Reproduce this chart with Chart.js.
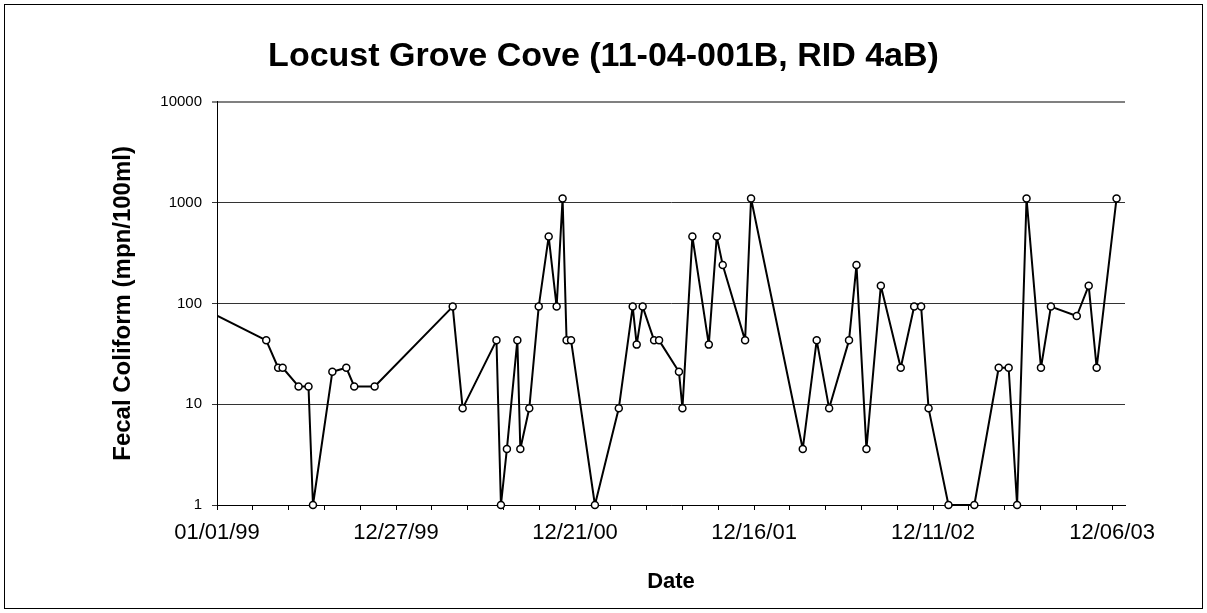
<!DOCTYPE html>
<html>
<head>
<meta charset="utf-8">
<script src="https://cdn.jsdelivr.net/npm/chart.js@4/dist/chart.umd.min.js"></script>
<style>
  html, body { margin: 0; padding: 0; background: #fff; }
  #wrap { position: relative; width: 1207px; height: 613px; }
  #frame { position: absolute; left: 4px; top: 4px; width: 1199px; height: 605px;
           border: 1px solid #000; box-sizing: border-box; pointer-events: none; }
</style>
</head>
<body>
<div id="wrap">
  <canvas id="fcChart" width="1207" height="613"></canvas>
  <div id="frame"></div>
</div>
<script>
// sample dates (MM/DD/YY) and fecal coliform results
const sampleDates = [
  '11/26/98', '04/10/99', '05/04/99', '05/13/99', '06/14/99', '07/04/99', '07/13/99',
  '08/21/99', '09/18/99', '10/04/99', '11/14/99', '04/19/00', '05/09/00', '07/16/00',
  '07/25/00', '08/06/00', '08/27/00', '09/02/00', '09/20/00', '10/09/00', '10/29/00',
  '11/14/00', '11/26/00', '12/04/00', '12/13/00', '01/30/01', '03/19/01', '04/16/01',
  '04/24/01', '05/06/01', '05/29/01', '06/08/01', '07/18/01', '07/25/01', '08/14/01',
  '09/16/01', '10/02/01', '10/14/01', '11/28/01', '12/10/01', '03/24/02', '04/21/02',
  '05/16/02', '06/25/02', '07/10/02', '07/30/02', '08/28/02', '10/07/02', '11/03/02',
  '11/17/02', '12/02/02', '01/11/03', '03/04/03', '04/22/03', '05/12/03', '05/29/03',
  '06/17/03', '07/16/03', '08/05/03', '09/26/03', '10/20/03', '11/05/03', '12/15/03'
];
const fecalColiform = [
  93, 43, 23, 23, 15, 15, 1,
  21, 23, 15, 15, 93, 9.1, 43,
  1, 3.6, 43, 3.6, 9.1, 93, 460,
  93, 1100, 43, 43, 1, 9.1, 93,
  39, 93, 43, 43, 21, 9.1, 460,
  39, 460, 240, 43, 1100, 3.6, 43,
  9.1, 43, 240, 3.6, 150, 23, 93,
  93, 9.1, 1, 1, 23, 23, 1,
  1100, 23, 93, 75, 150, 23, 1100
];
const yTicks = [1, 10, 100, 1000, 10000];
const xStartDate = '01/01/99';
const xEndDate = '01/01/04';
const minorStepDays = 72;
const majorStepDays = 360;

function parseDate(s) {
  const [m, d, y] = s.split('/').map(Number);
  return Date.UTC(y < 50 ? 2000 + y : 1900 + y, m - 1, d);
}
const DAY = 86400000;
const origin = parseDate(xStartDate);
const toDay = s => Math.round((parseDate(s) - origin) / DAY);
const pad2 = n => String(n).padStart(2, '0');
function dayLabel(day) {
  const dt = new Date(origin + day * DAY);
  return pad2(dt.getUTCMonth() + 1) + '/' + pad2(dt.getUTCDate()) + '/' + pad2(dt.getUTCFullYear() % 100);
}

const points = sampleDates.map((d, i) => ({ x: toDay(d), y: fecalColiform[i] }));
const xMax = toDay(xEndDate);

const fontFamily = "'Liberation Sans', Arial, sans-serif";

const ctx = document.getElementById('fcChart').getContext('2d');
new Chart(ctx, {
  type: 'line',
  data: {
    datasets: [{
      data: points,
      borderColor: '#000',
      borderWidth: 2,
      borderJoinStyle: 'round',
      tension: 0,
      pointRadius: 3.5,
      pointBorderWidth: 1.5,
      pointBorderColor: '#000',
      pointBackgroundColor: '#fff',
      clip: { left: 0, top: 6, right: 6, bottom: 6 }
    }]
  },
  options: {
    responsive: false,
    animation: false,
    layout: { padding: 0 },
    plugins: {
      legend: { display: false },
      tooltip: { enabled: false },
      title: {
        display: true,
        text: 'Locust Grove Cove (11-04-001B, RID 4aB)',
        color: '#000',
        font: { family: fontFamily, size: 34, weight: 'bold' },
        padding: { top: 36, bottom: 25 }
      }
    },
    scales: {
      x: {
        type: 'linear',
        min: 0,
        max: xMax,
        afterBuildTicks: scale => {
          const t = [];
          for (let v = 0; v <= xMax; v += minorStepDays) t.push({ value: v });
          scale.ticks = t;
        },
        afterFit: scale => { scale.height = 108; },
        ticks: {
          autoSkip: false,
          maxRotation: 0,
          color: '#000',
          padding: 10,
          font: { family: fontFamily, size: 22 },
          callback: v => (v % majorStepDays === 0 ? dayLabel(v) : '')
        },
        grid: { drawOnChartArea: false, tickLength: 5, color: '#000' },
        border: { color: '#000', width: 1 },
        title: {
          display: true,
          text: 'Date',
          color: '#000',
          font: { family: fontFamily, size: 22, weight: 'bold' },
          padding: { top: 0, bottom: 18 }
        }
      },
      y: {
        type: 'logarithmic',
        min: 1,
        max: 10000,
        afterBuildTicks: scale => { scale.ticks = yTicks.map(v => ({ value: v })); },
        afterFit: scale => { scale.width = 217; },
        ticks: {
          color: '#000',
          padding: 10,
          font: { family: fontFamily, size: 15 },
          callback: v => String(v)
        },
        grid: {
          color: c => (c.tick && c.tick.value === 10000 ? '#808080' : '#333'),
          lineWidth: c => (c.tick && c.tick.value === 10000 ? 2 : 1),
          tickLength: 5
        },
        border: { color: '#000', width: 1 },
        title: {
          display: true,
          text: 'Fecal Coliform (mpn/100ml)',
          color: '#000',
          font: { family: fontFamily, size: 24, weight: 'bold' },
          padding: { top: 109, bottom: 0 }
        }
      },
      // empty right-hand axis: only reserves the margin right of the plot
      yRight: {
        type: 'linear',
        position: 'right',
        display: true,
        afterFit: scale => { scale.width = 82; },
        ticks: { display: false },
        grid: { display: false },
        border: { display: false }
      }
    }
  }
});
</script>
</body>
</html>
